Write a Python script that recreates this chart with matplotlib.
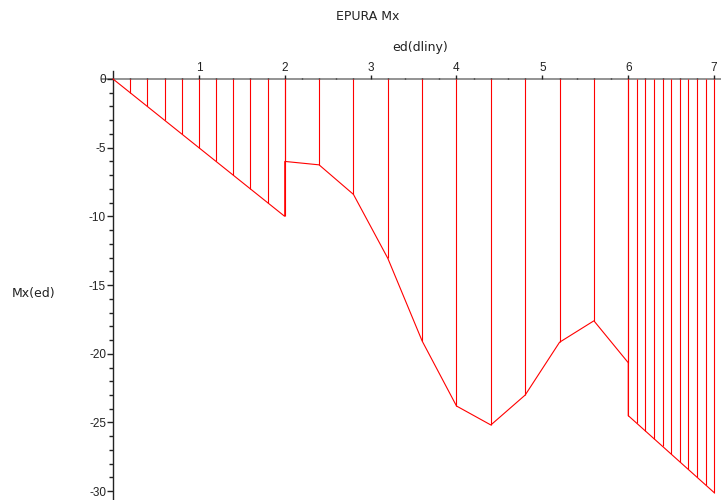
import matplotlib
matplotlib.use("Agg")
import matplotlib.pyplot as plt
from matplotlib.ticker import MultipleLocator, FixedLocator, FixedFormatter

plt.rcParams['axes.unicode_minus'] = False
plt.rcParams['font.family'] = ['Liberation Sans', 'DejaVu Sans']

# Segment 1 (0..2), step 0.2
seg1_x = [0.0, 0.2, 0.4, 0.6, 0.8, 1.0, 1.2, 1.4, 1.6, 1.8, 2.0]
seg1_m = [0.0, -1.0, -2.0, -3.0, -4.0, -5.0, -6.0, -7.0, -8.0, -9.0, -10.0]
# Segment 2 (2..6), step 0.4
seg2_x = [2.0, 2.4, 2.8, 3.2, 3.6, 4.0, 4.4, 4.8, 5.2, 5.6, 6.0]
seg2_m = [-6.0, -6.25, -8.4, -13.05, -19.07, -23.8, -25.18, -23.0, -19.16, -17.6, -20.65]
# Segment 3 (6..7), step 0.1
seg3_x = [6.0, 6.1, 6.2, 6.3, 6.4, 6.5, 6.6, 6.7, 6.8, 6.9, 7.0]
seg3_m = [-24.5, -25.06, -25.62, -26.18, -26.74, -27.3, -27.86, -28.42, -28.98, -29.54, -30.1]

x_major = [1, 2, 3, 4, 5, 6, 7]
y_major = [0, -5, -10, -15, -20, -25, -30]

W, H = 721, 500
fig = plt.figure(figsize=(W / 100, H / 100), dpi=100)
# axes box in pixels: left 102, right 721, top 71, bottom 500
ax = fig.add_axes([102 / W, 0 / H, (721 - 102) / W, (500 - 71) / H])
ax.set_xlim(-0.128, 7.08)
ax.set_ylim(-30.64, 0.58)

red = '#ff0000'
xs = seg1_x + seg2_x + seg3_x
ms = seg1_m + seg2_m + seg3_m
ax.plot(xs, ms, color=red, lw=0.8, solid_joinstyle='miter')
ax.vlines(xs, ms, 0, color=red, lw=0.8)

for s in ['right', 'bottom']:
    ax.spines[s].set_visible(False)
ax.spines['left'].set_position(('data', 0))
ax.spines['top'].set_position(('data', 0))
ax.spines['left'].set_color('#222222')
ax.spines['top'].set_color('#808080')
ax.spines['left'].set_linewidth(1.0)
ax.spines['top'].set_linewidth(1.2)
ax.spines['left'].set_zorder(0.5)
ax.spines['top'].set_zorder(0.5)

ax.xaxis.set_ticks_position('top')
ax.xaxis.set_major_locator(FixedLocator(x_major))
ax.xaxis.set_major_formatter(FixedFormatter([str(v) for v in x_major]))
ax.xaxis.set_minor_locator(MultipleLocator(0.2))
ax.yaxis.set_ticks_position('left')
ax.yaxis.set_major_locator(FixedLocator(y_major))
ax.yaxis.set_major_formatter(FixedFormatter([str(v) for v in y_major]))
ax.yaxis.set_minor_locator(MultipleLocator(1))

ax.tick_params(axis='x', which='major', length=3, width=1, color='#222222',
               labelsize=8.5, labelcolor='#222222', pad=0.5, direction='out')
ax.tick_params(axis='x', which='minor', length=1, width=1, color='#222222')
ax.tick_params(axis='y', which='major', length=4, width=1, color='#222222',
               labelsize=8.5, labelcolor='#222222', pad=1)
ax.tick_params(axis='y', which='minor', length=3, width=1, color='#222222')
ax.patch.set_alpha(0)

lab = dict(ha='center', va='center', fontsize=9, color='#222222', family=['DejaVu Sans'])
fig.text(368 / W, 1 - 16 / H, 'EPURA Mx', **lab)
fig.text(420 / W, 1 - 47 / H, 'ed(dliny)', **lab)
fig.text(34 / W, 1 - 294 / H, 'Mx(ed)', **lab)

fig.savefig('out.png', dpi=100)
